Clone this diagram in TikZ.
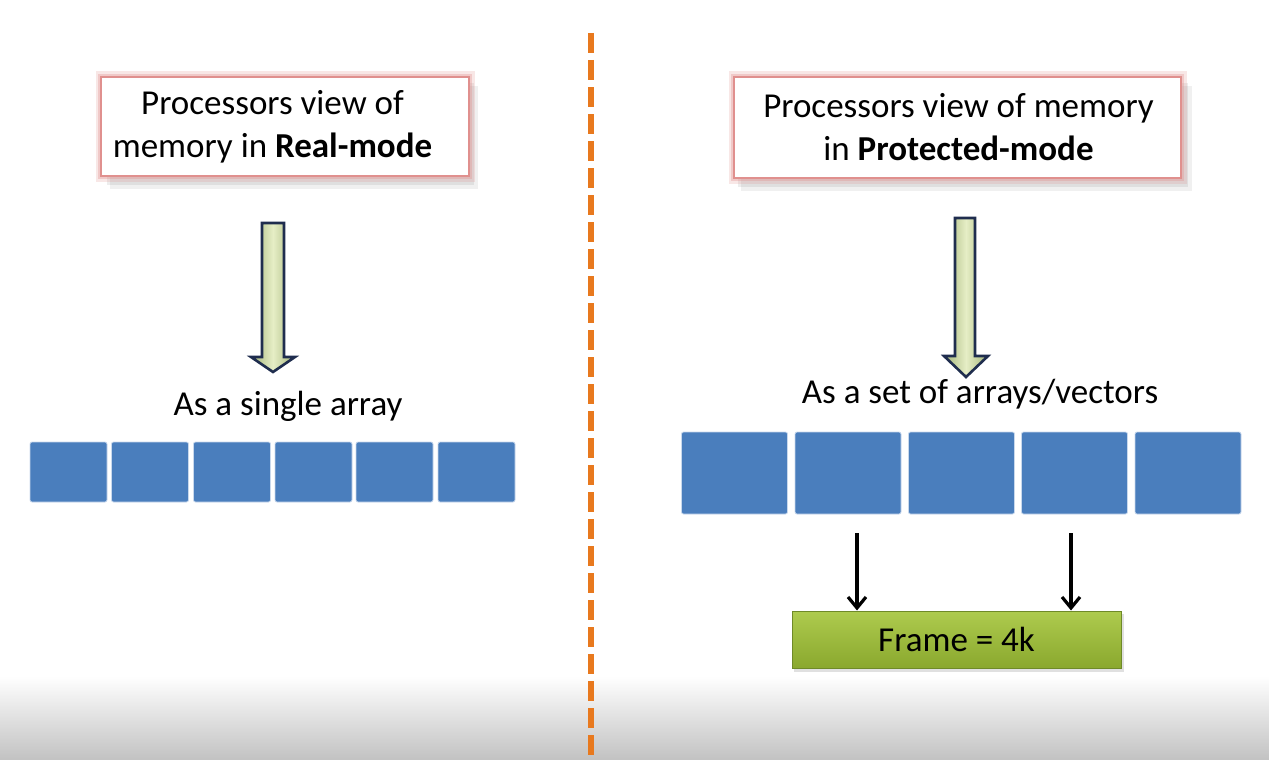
\documentclass[tikz,border=0pt]{standalone}
\usepackage{fontspec}
\setmainfont{Carlito}
\usetikzlibrary{arrows.meta}
\definecolor{cellblue}{HTML}{4A7EBD}
\definecolor{celledge}{HTML}{C8D8EC}
\definecolor{divorange}{HTML}{E8791E}
\definecolor{pinkedge}{HTML}{E0908E}
\definecolor{arrowedge}{HTML}{1F2D4E}
\definecolor{arrowfillA}{HTML}{A3B478}
\definecolor{arrowfillB}{HTML}{E6EEC6}
\definecolor{frameTop}{HTML}{AECB4E}
\definecolor{frameBot}{HTML}{8AA82E}
\definecolor{frameEdge}{HTML}{6F8A28}
\tikzset{
  txt/.style={font=\fontsize{35}{43}\selectfont, text=black, inner sep=0pt},
  titlebox/.style={draw=pinkedge, line width=2.5pt, fill=white, inner sep=0pt},
  titletext/.style={align=center, font=\fontsize{35}{43}\selectfont, inner sep=0pt},
  cell/.style={draw=celledge, line width=0.8pt, fill=cellblue, rounded corners=2pt, inner sep=0pt},
  divider/.style={draw=divorange, line width=6pt, dash pattern=on 20pt off 7pt},
  blockarrow/.style={draw=arrowedge, line width=2.6pt, line join=miter,
     left color=arrowfillA, right color=arrowfillA, middle color=arrowfillB},
  thinarrow/.style={draw=black, line width=3.2pt, -{Straight Barb[length=11pt,width=18pt,line width=3.2pt]}},
  framebox/.style={draw=frameEdge, line width=1pt, top color=frameTop, bottom color=frameBot,
     font=\fontsize{35}{40}\selectfont, inner sep=0pt},
}
\begin{document}
\begin{tikzpicture}[x=1pt,y=-1pt]
\useasboundingbox (0,0) rectangle (1269,760);
% bottom grey band
\shade[top color=white, bottom color=black!24] (0,676) rectangle (1269,760);
% divider
\coordinate (dtop) at (591,33);
\coordinate (dbot) at (591,762);
\draw[divider] (dtop) -- (dbot);

% ---------- shadows and glow of title boxes ----------
\fill[black, opacity=0.06] (110,86) rectangle (478,189);
\fill[black, opacity=0.07] (107,83) rectangle (474,185);
\fill[black, opacity=0.06] (741,86) rectangle (1192,191);
\fill[black, opacity=0.07] (738,83) rectangle (1188,187);
\draw[pinkedge, opacity=0.22, line width=11pt] (101,77) rectangle (469,176);
\draw[pinkedge, opacity=0.35, line width=6pt] (101,77) rectangle (469,176);
\draw[pinkedge, opacity=0.22, line width=11pt] (734,77) rectangle (1181,178);
\draw[pinkedge, opacity=0.35, line width=6pt] (734,77) rectangle (1181,178);

% ---------- left side ----------
\node[titlebox, minimum width=368pt, minimum height=99pt] (tl) at (285,126.5) {};
\node[titletext] (tlt) at (272.5,126.5) {Processors view of\\memory in \textbf{Real-mode}};
\path[blockarrow] (262,223) -- (284,223) -- (284,357) -- (295,357) -- (273,372)
   -- (251,357) -- (262,357) -- cycle;
\coordinate (la) at (273,372);
\node[txt] (ls) at (288,406) {As a single array};
\foreach \cx/\n in {68.5/1,150/2,232/3,313.5/4,394.5/5,476.5/6}{
  \node[cell, minimum width=77pt, minimum height=60pt] (l\n) at (\cx,472) {};
}

% ---------- right side ----------
\node[titlebox, minimum width=447pt, minimum height=101pt] (tr) at (957.5,127.5) {};
\node[titletext] (trt) at (958.5,127.5) {Processors view of memory\\in \textbf{Protected-mode}};
\path[blockarrow] (955,218) -- (975,218) -- (975,356) -- (988,356) -- (966,377)
   -- (944,356) -- (955,356) -- cycle;
\coordinate (ra) at (966,377);
\node[txt] (rs) at (980,394) {As a set of arrays/vectors};
\foreach \cx/\n in {734.5/1,848/2,961.5/3,1074.5/4,1188/5}{
  \node[cell, minimum width=106pt, minimum height=82pt] (r\n) at (\cx,473) {};
}
% frame
\fill[black, opacity=0.12] (794,614) rectangle (1124,672);
\node[framebox, minimum width=329pt, minimum height=57pt] (frame) at (956.5,639.5) {Frame = 4k};
\coordinate (fa1) at (857,533);
\coordinate (fa2) at (1071,533);
\draw[thinarrow] (fa1) -- (fa1 |- frame.north);
\draw[thinarrow] (fa2) -- (fa2 |- frame.north);
\end{tikzpicture}
\end{document}
